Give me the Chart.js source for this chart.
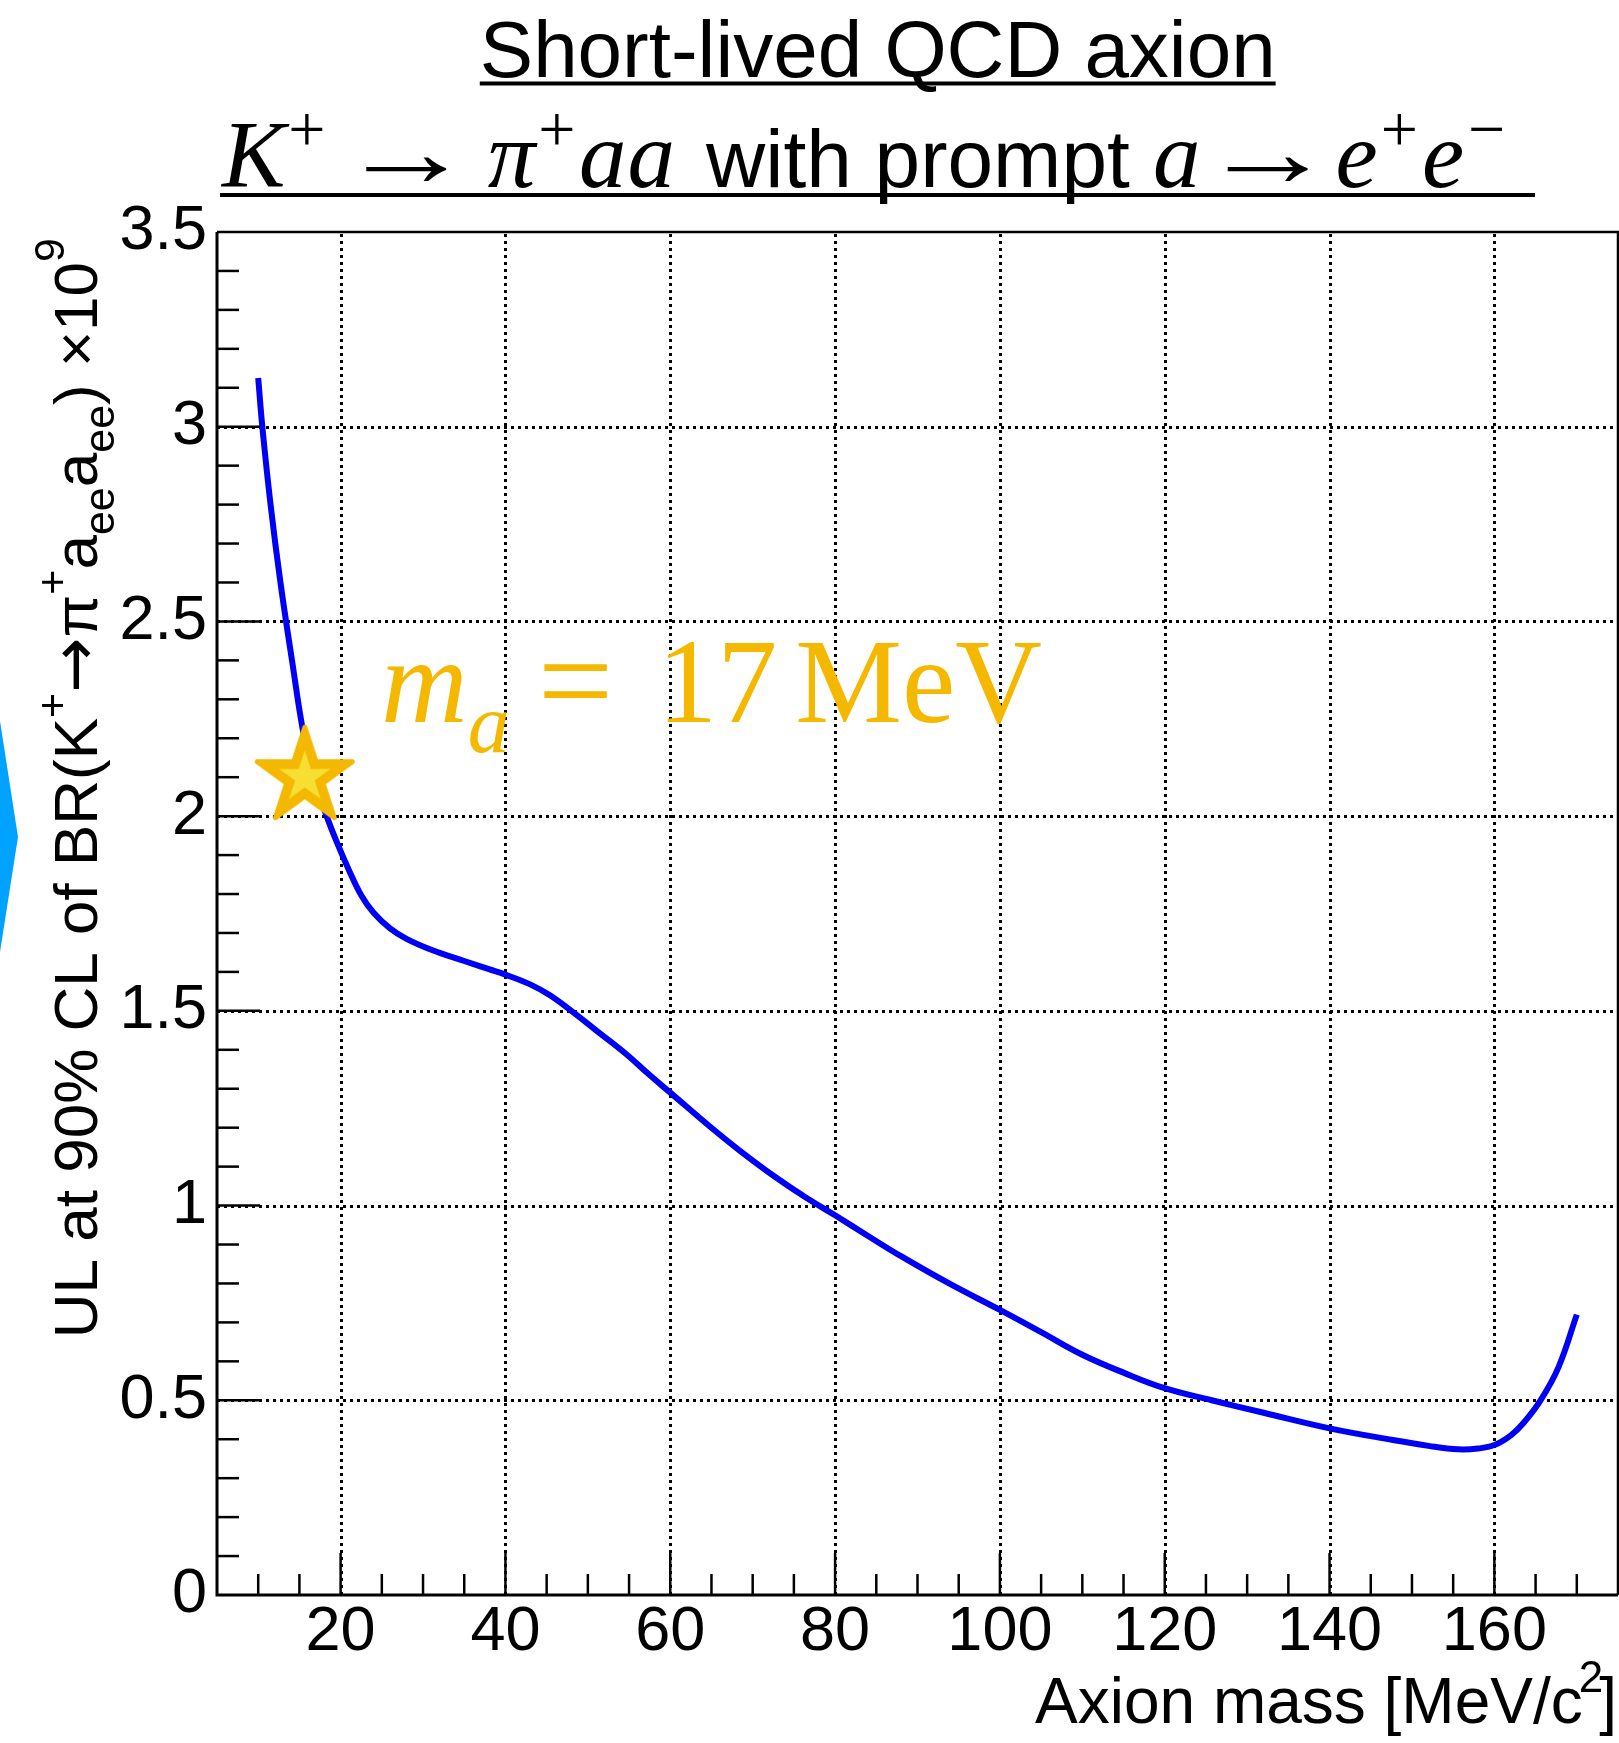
<!DOCTYPE html>
<html><head><meta charset="utf-8">
<script src="https://cdn.jsdelivr.net/npm/chart.js@4.4.1/dist/chart.umd.min.js"></script>
<style>html,body{margin:0;padding:0;background:#fff;}canvas{display:block;}</style>
</head><body>
<canvas id="c" width="1619" height="1743"></canvas>
<script>
// ---------------- data ----------------
const axionMass = [10, 10.5, 11.5, 12.7, 14.1, 15.6, 17, 18.3, 19.5, 21, 22.5, 24, 26, 28, 31, 35, 38, 40, 43, 45.4, 48, 51, 54.6, 57.5, 60, 64.8, 68.5, 72.7, 76.5, 80, 84, 88, 94, 100, 105, 110, 115, 120, 125.7, 132, 140, 147.7, 152, 155.6, 158, 160, 162, 163.5, 165.6, 167.8, 170];
const ulBR = [3.125, 3.00, 2.80, 2.60, 2.40, 2.20, 2.08, 2.00, 1.935, 1.862, 1.797, 1.752, 1.712, 1.685, 1.657, 1.628, 1.607, 1.593, 1.568, 1.54, 1.50, 1.45, 1.39, 1.335, 1.29, 1.203, 1.14, 1.074, 1.02, 0.975, 0.922, 0.87, 0.798, 0.732, 0.675, 0.617, 0.571, 0.531, 0.50, 0.468, 0.428, 0.398, 0.383, 0.374, 0.376, 0.385, 0.41, 0.441, 0.50, 0.586, 0.72];
const starMass = [15.65];
const starUL = [2.10];
const annotationMass = 24.9;
const annotationUL = 2.2406;
const xRange = [5, 175];
const yRange = [0, 3.5];
const xTickValues = [20, 40, 60, 80, 100, 120, 140, 160];
const xTickLabels = ['20', '40', '60', '80', '100', '120', '140', '160'];
const yTickValues = [0, 0.5, 1, 1.5, 2, 2.5, 3, 3.5];
const yTickLabels = ['0', '0.5', '1', '1.5', '2', '2.5', '3', '3.5'];
const titleLine1 = 'Short-lived QCD axion';

// ---------------- styles ----------------
const SANS = '"Liberation Sans", Arial, Helvetica, sans-serif';
const SERIF = '"Liberation Serif", "Times New Roman", serif';
const ARROW = '"DejaVu Sans", "Liberation Sans", sans-serif';
const ORANGE = '#F5B800';
const YELLOW = '#F7DE32';
const PLOT = { left: 217, top: 232, right: 1618, bottom: 1595 };

function segW(ctx, s) {
  if (s.gap !== undefined) return s.gap;
  ctx.font = s.f;
  return ctx.measureText(s.t).width * (s.sx || 1) + (s.dx || 0);
}
function richWidth(ctx, segs) { return segs.reduce((w, s) => w + segW(ctx, s), 0); }
function drawRich(ctx, segs, x, y) {
  let cx = x;
  for (const s of segs) {
    if (s.gap !== undefined) { cx += s.gap; continue; }
    ctx.font = s.f;
    cx += (s.dx || 0);
    if (s.sx) {
      ctx.save();
      ctx.translate(cx, y + (s.dy || 0));
      ctx.scale(s.sx, 1);
      ctx.fillText(s.t, 0, 0);
      ctx.restore();
    } else {
      ctx.fillText(s.t, cx, y + (s.dy || 0));
    }
    cx += ctx.measureText(s.t).width * (s.sx || 1);
  }
  return cx;
}
// spread the flexible gaps of a piece so that it spans [x0, x1]
function stretch(ctx, segs, x0, x1) {
  const flex = segs.filter(s => s.flex);
  const extra = (x1 - x0 - richWidth(ctx, segs)) / flex.length;
  flex.forEach(s => { s.gap = Math.max(0, s.gap + extra); });
  return segs;
}

// star marker image
function makeStar() {
  const c = document.createElement('canvas');
  c.width = 116; c.height = 116;
  const g = c.getContext('2d');
  const cx = 58, cy = 58;
  function star(R, fill, stroke, lw) {
    const r = R * 0.382;
    g.beginPath();
    for (let i = 0; i < 10; i++) {
      const rad = i % 2 === 0 ? R : r;
      const a = -Math.PI / 2 + i * Math.PI / 5;
      const px = cx + rad * Math.cos(a), py = cy + rad * Math.sin(a);
      if (i === 0) g.moveTo(px, py); else g.lineTo(px, py);
    }
    g.closePath();
    g.fillStyle = fill;
    g.fill();
    if (stroke) { g.lineJoin = 'round'; g.lineWidth = lw; g.strokeStyle = stroke; g.stroke(); }
  }
  star(50, ORANGE, ORANGE, 5);
  star(27, YELLOW);
  return c;
}

const rootPlugin = {
  id: 'rootStyle',
  beforeDatasetsDraw(chart) {
    const { ctx, chartArea: a, scales: { x, y } } = chart;
    ctx.save();
    ctx.strokeStyle = '#000';
    ctx.lineWidth = 3;
    ctx.setLineDash([3, 4]);
    xTickValues.forEach(v => {
      if (v <= xRange[0] || v >= xRange[1]) return;
      const px = Math.round(x.getPixelForValue(v)) + 0.5;
      ctx.beginPath(); ctx.moveTo(px, a.bottom); ctx.lineTo(px, a.top); ctx.stroke();
    });
    yTickValues.forEach(v => {
      if (v <= yRange[0] || v >= yRange[1]) return;
      const py = Math.round(y.getPixelForValue(v)) + 0.5;
      ctx.beginPath(); ctx.moveTo(a.left, py); ctx.lineTo(a.right, py); ctx.stroke();
    });
    ctx.restore();
  },
  afterDatasetsDraw(chart) {
    const { ctx, chartArea: a, scales: { x, y } } = chart;
    ctx.save();
    ctx.strokeStyle = '#000';
    ctx.setLineDash([]);
    ctx.lineWidth = 2.5;
    for (let k = 2; k <= 34; k++) {
      const v = k * 5;
      if (v <= xRange[0] || v >= xRange[1]) continue;
      const major = v % 20 === 0;
      const px = x.getPixelForValue(v);
      ctx.beginPath(); ctx.moveTo(px, a.bottom); ctx.lineTo(px, a.bottom - (major ? 42 : 21)); ctx.stroke();
    }
    for (let k = 1; k <= 34; k++) {
      const v = k / 10;
      const major = k % 5 === 0;
      const py = y.getPixelForValue(v);
      ctx.beginPath(); ctx.moveTo(a.left, py); ctx.lineTo(a.left + (major ? 43 : 22), py); ctx.stroke();
    }
    ctx.lineWidth = 2.5;
    ctx.beginPath(); ctx.moveTo(a.left, a.top); ctx.lineTo(a.right, a.top); ctx.lineTo(a.right, a.bottom); ctx.stroke();
    ctx.lineWidth = 3;
    ctx.beginPath(); ctx.moveTo(a.left, a.top); ctx.lineTo(a.left, a.bottom); ctx.lineTo(a.right, a.bottom); ctx.stroke();
    ctx.restore();
  },
  afterDraw(chart) {
    const { ctx, scales: { x, y } } = chart;
    ctx.save();
    ctx.textAlign = 'left';
    ctx.textBaseline = 'alphabetic';
    ctx.fillStyle = '#000';

    // title line 1
    const t1 = [{ t: titleLine1, f: `80px ${SANS}` }];
    const w1 = richWidth(ctx, t1);
    const x1 = 877.7 - w1 / 2;
    drawRich(ctx, t1, x1, 77);
    ctx.fillRect(x1, 81.5, w1, 4);

    // title line 2 : three pieces
    const AR = `100px ${SERIF}`, MI = `italic 95px ${SERIF}`, SUP = `66px ${SERIF}`;
    const partA = [
      { t: 'K', f: MI }, { gap: 3 }, { t: '+', f: SUP, dy: -36 }, { gap: 14, flex: true }, { t: '\u2192', f: AR, dy: -1, sx: 1.35 }, { gap: 14, flex: true },
      { t: '\u03C0', f: MI }, { gap: 3 }, { t: '+', f: SUP, dy: -36 }, { gap: 4, flex: true }, { t: 'a', f: MI }, { gap: 1 }, { t: 'a', f: MI }
    ];
    drawRich(ctx, stretch(ctx, partA, 222, 675), 222, 187);
    drawRich(ctx, [{ t: 'with prompt', f: `82px ${SANS}` }], 706, 187);
    const partC = [
      { t: 'a', f: MI }, { gap: 14, flex: true }, { t: '\u2192', f: AR, dy: -1, sx: 1.35 }, { gap: 14, flex: true },
      { t: 'e', f: MI }, { gap: 3 }, { t: '+', f: SUP, dy: -36 }, { gap: 4 }, { t: 'e', f: MI }, { gap: 4 }, { t: '\u2212', f: SUP, dy: -36 }
    ];
    drawRich(ctx, stretch(ctx, partC, 1153, 1505), 1153, 187);
    ctx.fillRect(220, 193, 1315, 4);

    // y-axis title (rotated)
    const F = 62, FS = 43;
    const yt = [
      { t: 'UL at 90% CL of BR(K', f: `${F}px ${SANS}` }, { t: '+', f: `${FS}px ${SANS}`, dy: -30 },
      { t: '\u2192', f: `66px ${ARROW}` }, { t: '\u03C0', f: `${F}px ${SANS}` }, { t: '+', f: `${FS}px ${SANS}`, dy: -30 },
      { t: 'a', f: `${F}px ${SANS}` }, { t: 'ee', f: `${FS}px ${SANS}`, dy: 17 },
      { t: 'a', f: `${F}px ${SANS}` }, { t: 'ee', f: `${FS}px ${SANS}`, dy: 17 },
      { t: ') \u00D710', f: `${F}px ${SANS}` }, { t: '9', f: `${FS}px ${SANS}`, dy: -33 }
    ];
    const wy = richWidth(ctx, yt);
    ctx.save();
    ctx.translate(97, 238 + wy);
    ctx.rotate(-Math.PI / 2);
    drawRich(ctx, yt, 0, 0);
    ctx.restore();

    // x-axis title
    const xt = [
      { t: 'Axion mass [MeV/c', f: `64px ${SANS}` }, { t: '2', f: `44px ${SANS}`, dy: -31, dx: -4 },
      { t: ']', f: `64px ${SANS}`, dx: -4 }
    ];
    const wx = richWidth(ctx, xt);
    drawRich(ctx, xt, 1617 - wx, 1723);

    // annotation m_a = 17 MeV
    ctx.fillStyle = ORANGE;
    const an = [
      { t: 'm', f: `italic 120px ${SERIF}` }, { t: 'a', f: `italic 84px ${SERIF}`, dy: 30 },
      { gap: 28 }, { t: '=', f: `134px ${SERIF}`, dy: 4 }, { gap: 44 },
      { t: '17', f: `120px ${SERIF}` }, { gap: 18 }, { t: 'MeV', f: `120px ${SERIF}` }
    ];
    drawRich(ctx, an, x.getPixelForValue(annotationMass), y.getPixelForValue(annotationUL));

    // slide decoration at left edge
    ctx.fillStyle = '#00A2FF';
    ctx.beginPath(); ctx.moveTo(0, 721); ctx.lineTo(18, 837); ctx.lineTo(0, 952); ctx.closePath(); ctx.fill();
    ctx.restore();
  }
};

const lineData = axionMass.map((m, i) => ({ x: m, y: ulBR[i] }));
const starData = starMass.map((m, i) => ({ x: m, y: starUL[i] }));

const chart = new Chart(document.getElementById('c'), {
  type: 'line',
  data: {
    datasets: [
      { data: starData, showLine: false, pointStyle: makeStar(), pointRadius: 30, pointHoverRadius: 30, order: 0,
        borderColor: ORANGE, backgroundColor: ORANGE },
      { data: lineData, borderColor: 'rgb(0,0,245)', borderWidth: 6, pointRadius: 0, fill: false,
        tension: 0.4, borderCapStyle: 'butt', order: 1 }
    ]
  },
  options: {
    responsive: false,
    devicePixelRatio: 1,
    animation: false,
    events: [],
    layout: { autoPadding: false, padding: { top: PLOT.top, right: 1619 - PLOT.right, left: 0, bottom: 0 } },
    plugins: { legend: { display: false }, title: { display: false }, tooltip: { enabled: false } },
    scales: {
      x: {
        type: 'linear', min: xRange[0], max: xRange[1],
        grid: { display: false, drawTicks: false },
        border: { display: false },
        afterBuildTicks: s => { s.ticks = xTickValues.map(v => ({ value: v })); },
        afterFit: s => { s.height = 1743 - PLOT.bottom; s.paddingLeft = 0; s.paddingRight = 0; },
        ticks: { autoSkip: false, maxRotation: 0, padding: 0, color: '#000',
          font: { family: SANS, size: 63, lineHeight: 1.2 },
          callback: (v, i) => xTickLabels[i] }
      },
      y: {
        type: 'linear', min: yRange[0], max: yRange[1],
        grid: { display: false, drawTicks: false },
        border: { display: false },
        afterBuildTicks: s => { s.ticks = yTickValues.map(v => ({ value: v })); },
        afterFit: s => { s.width = PLOT.left; s.paddingTop = 0; s.paddingBottom = 0; },
        ticks: { autoSkip: false, padding: 10, color: '#000',
          font: { family: SANS, size: 63, lineHeight: 1.2 },
          callback: (v, i) => yTickLabels[i] }
      }
    }
  },
  plugins: [rootPlugin]
});

// make sure the plotting area sits where the reference frame is
(function fixArea() {
  for (let k = 0; k < 3; k++) {
    const a = chart.chartArea;
    const dr = a.right - PLOT.right, dt = PLOT.top - a.top, db = a.bottom - PLOT.bottom, dl = PLOT.left - a.left;
    if (Math.abs(dr) < 0.5 && Math.abs(dt) < 0.5 && Math.abs(db) < 0.5 && Math.abs(dl) < 0.5) break;
    const p = chart.config.options.layout.padding;
    p.right = p.right + dr;
    p.top = p.top + dt;
    p.bottom = p.bottom + db;
    p.left = p.left + dl;
    chart.update();
  }
})();
</script>
</body></html>
